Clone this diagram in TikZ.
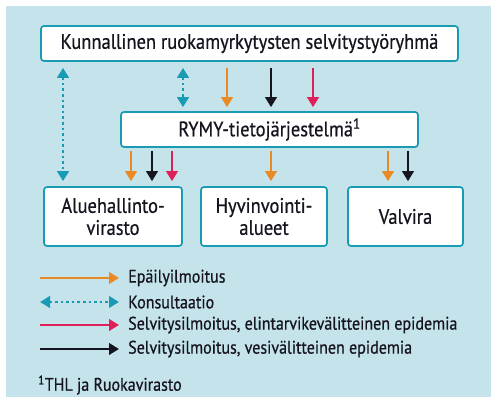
\documentclass[tikz,border=0pt]{standalone}
\usepackage{fontspec}
\setmainfont{PT Sans}[FakeStretch=0.88,FakeBold=0.6]
\usetikzlibrary{arrows.meta}
\definecolor{bg}{HTML}{C5E3EB}
\definecolor{teal}{HTML}{1A9BB4}
\definecolor{orng}{HTML}{E98A24}
\definecolor{rd}{HTML}{DE1F5A}
\definecolor{blk}{HTML}{15141F}
\begin{document}
\begin{tikzpicture}[x=1pt,y=-1pt,
  box/.style={draw=teal,line width=1.7pt,rounded corners=3pt,fill=white,inner sep=0pt},
  tip/.style={-{Triangle[width=11.5pt,length=10pt]}},
  ar/.style={tip,line width=2.3pt},
  oa/.style={ar,orng},
  ba/.style={ar,blk},
  ra/.style={ar,rd},
  ca/.style={{Triangle[width=11.5pt,length=10pt]}-{Triangle[width=11.5pt,length=10pt]},teal,line width=2.6pt,dash pattern=on 2.6pt off 3pt},
  lbl/.style={font=\fontsize{21}{22}\selectfont,align=center,text=blk},
  leg/.style={font=\fontsize{18.2}{20}\selectfont,anchor=west,inner sep=0pt,text=blk}
]
\useasboundingbox (0,0) rectangle (491,401);
\fill[white] (0,0) rectangle (491,401);
\fill[bg] (6,6) rectangle (491,397);
% boxes
\node[box,minimum width=417pt,minimum height=35pt] (top) at (249.5,43.5) {};
\node[lbl] at (top.center) {Kunnallinen ruokamyrkytysten selvitystyöryhmä};
\node[box,minimum width=297pt,minimum height=35pt] (rymy) at (269.5,129.5) {};
\node[lbl] at (rymy.center) {RYMY-tietojärjestelmä\textsuperscript{1}};
\node[box,minimum width=138pt,minimum height=59pt] (avi) at (113,216.5) {};
\node[lbl] at (avi.center) {Aluehallinto-\\virasto};
\node[box,minimum width=126pt,minimum height=59pt] (hva) at (264,216.5) {};
\node[lbl] at (hva.center) {Hyvinvointi-\\alueet};
\node[box,minimum width=115pt,minimum height=59pt] (val) at (405.5,216.5) {};
\node[lbl] at (val.center) {Valvira};
% connectors top -> rymy
\draw[ca] ([xshift=-186.5pt,yshift=-6pt]top.south) -- ([xshift=-50pt,yshift=5pt]avi.north);
\draw[ca] ([xshift=-66.5pt,yshift=-6pt]top.south) -- ([xshift=-66.5pt,yshift=4pt]top.south |- rymy.north);
\draw[oa] ([xshift=-22.5pt,yshift=-6pt]top.south) -- ([xshift=-22.5pt,yshift=4pt]top.south |- rymy.north);
\draw[ba] ([xshift=21.5pt,yshift=-6pt]top.south) -- ([xshift=21.5pt,yshift=4pt]top.south |- rymy.north);
\draw[ra] ([xshift=63.5pt,yshift=-6pt]top.south) -- ([xshift=63.5pt,yshift=4pt]top.south |- rymy.north);
% rymy -> bottom
\coordinate (r) at ([yshift=-3pt]rymy.south);
\draw[oa] (131,0 |- r) -- ([xshift=18pt,yshift=5pt]avi.north);
\draw[ba] (152,0 |- r) -- ([xshift=39pt,yshift=5pt]avi.north);
\draw[ra] (172,0 |- r) -- ([xshift=59pt,yshift=5pt]avi.north);
\draw[oa] (271,0 |- r) -- ([xshift=7pt,yshift=5pt]hva.north);
\draw[oa] (388,0 |- r) -- ([xshift=-17.5pt,yshift=5pt]val.north);
\draw[ba] (408,0 |- r) -- ([xshift=2.5pt,yshift=5pt]val.north);
% legend
\node[leg] (l1) at (128,278) {Epäilyilmoitus};
\node[leg] (l2) at (128,302) {Konsultaatio};
\node[leg] (l3) at (128,325) {Selvitysilmoitus, elintarvikevälitteinen epidemia};
\node[leg] (l4) at (128,349) {Selvitysilmoitus, vesivälitteinen epidemia};
\coordinate (s1) at (40,278);
\coordinate (s2) at (40,302);
\coordinate (s3) at (40,325);
\coordinate (s4) at (40,349);
\draw[oa] (s1) -- ([xshift=-9pt]l1.west);
\draw[ca] (s2) -- ([xshift=-9pt]l2.west);
\draw[ra] (s3) -- ([xshift=-9pt]l3.west);
\draw[ba] (s4) -- ([xshift=-9pt]l4.west);
\node[leg] (fn) at (38,385) {\textsuperscript{1}THL ja Ruokavirasto};
\end{tikzpicture}
\end{document}
